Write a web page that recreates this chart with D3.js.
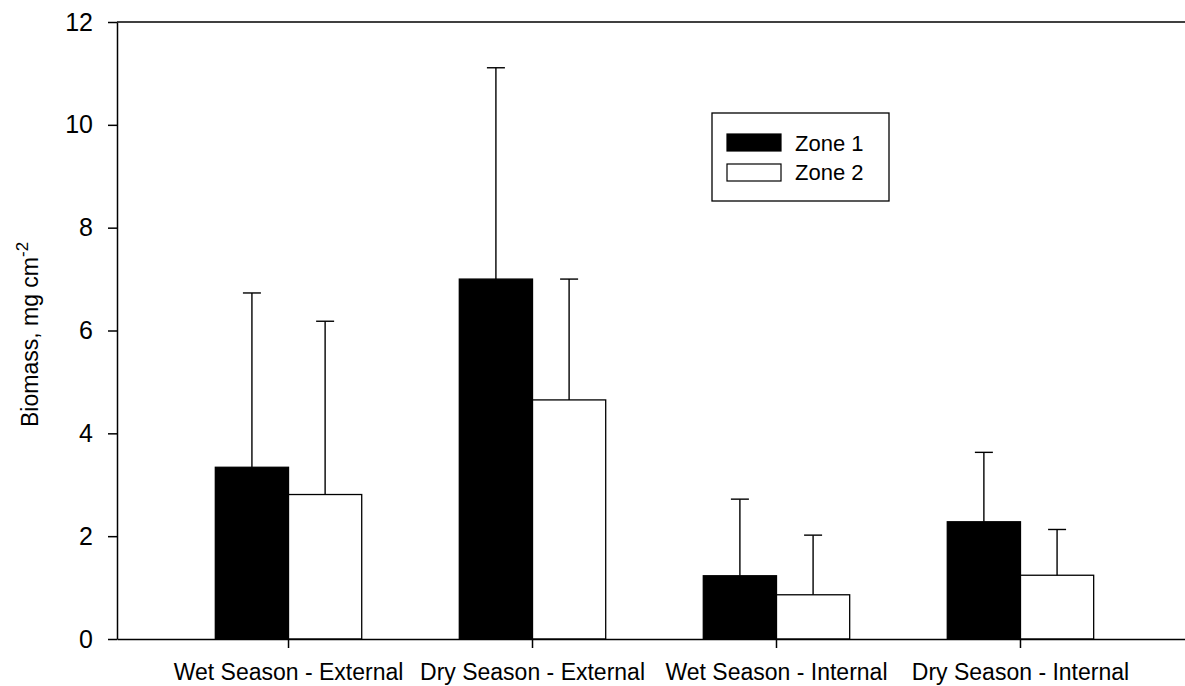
<!DOCTYPE html>
<html>
<head>
<meta charset="utf-8">
<script src="https://cdn.jsdelivr.net/npm/d3@7"></script>
<style>
  html, body { margin: 0; padding: 0; background: #fff; }
  svg { display: block; font-family: "Liberation Sans", Arial, sans-serif; }
</style>
</head>
<body>
<svg id="chart" width="1185" height="686"></svg>
<script>
const categories = ["Wet Season - External", "Dry Season - External", "Wet Season - Internal", "Dry Season - Internal"];
const zones = ["Zone 1", "Zone 2"];
const zone1Means = [3.34, 7.00, 1.23, 2.28];
const zone2Means = [2.81, 4.65, 0.86, 1.24];
const zone1Err = [3.39, 4.11, 1.49, 1.35];
const zone2Err = [3.37, 2.35, 1.16, 0.89];
const yTicks = [0, 2, 4, 6, 8, 10, 12];

const zoneFill = { "Zone 1": "#000000", "Zone 2": "#ffffff" };

const data = [];
categories.forEach((c, i) => {
  data.push({ cat: c, zone: "Zone 1", mean: zone1Means[i], err: zone1Err[i] });
  data.push({ cat: c, zone: "Zone 2", mean: zone2Means[i], err: zone2Err[i] });
});

const svg = d3.select("#chart");
const plotLeft = 117, plotRight = 1192, plotTop = 22, plotBottom = 639;

const x = d3.scaleBand().domain(categories).range([plotLeft, plotRight])
  .paddingInner(0.4).paddingOuter(0.403);
const x1 = d3.scaleBand().domain(zones).range([0, x.bandwidth()]);
const y = d3.scaleLinear().domain([0, 12]).range([plotBottom, plotTop]);

// Bars
svg.append("g").selectAll("rect").data(data).join("rect")
  .attr("x", d => x(d.cat) + x1(d.zone))
  .attr("y", d => y(d.mean))
  .attr("width", x1.bandwidth())
  .attr("height", d => y(0) - y(d.mean))
  .attr("fill", d => zoneFill[d.zone])
  .attr("stroke", "#000")
  .attr("stroke-width", 1.3);

// Error bars
const capW = 18;
const eb = svg.append("g").attr("stroke", "#000").attr("stroke-width", 1.4);
eb.selectAll("line.v").data(data).join("line").attr("class", "v")
  .attr("x1", d => x(d.cat) + x1(d.zone) + x1.bandwidth() / 2)
  .attr("x2", d => x(d.cat) + x1(d.zone) + x1.bandwidth() / 2)
  .attr("y1", d => y(d.mean))
  .attr("y2", d => y(d.mean + d.err));
eb.selectAll("line.c").data(data).join("line").attr("class", "c")
  .attr("x1", d => x(d.cat) + x1(d.zone) + x1.bandwidth() / 2 - capW / 2)
  .attr("x2", d => x(d.cat) + x1(d.zone) + x1.bandwidth() / 2 + capW / 2)
  .attr("y1", d => y(d.mean + d.err))
  .attr("y2", d => y(d.mean + d.err));

// Top frame line
svg.append("line")
  .attr("x1", plotLeft).attr("x2", plotRight)
  .attr("y1", plotTop).attr("y2", plotTop)
  .attr("stroke", "#000").attr("stroke-width", 1.5);

// Y axis
const yAxis = svg.append("g").attr("transform", `translate(${plotLeft},0)`)
  .call(d3.axisLeft(y).tickValues(yTicks).tickSizeInner(9).tickSizeOuter(0).tickPadding(15));
yAxis.select(".domain").attr("stroke-width", 1.5);
yAxis.selectAll(".tick line").attr("stroke-width", 1.5);
yAxis.selectAll("text").attr("font-size", 25).attr("fill", "#000")
  .style("font-family", "'Liberation Sans', Arial, sans-serif");

// X axis
const xAxis = svg.append("g").attr("transform", `translate(0,${plotBottom})`)
  .call(d3.axisBottom(x).tickSizeInner(9).tickSizeOuter(0).tickPadding(16));
xAxis.select(".domain").attr("stroke-width", 1.5);
xAxis.selectAll(".tick line").attr("stroke-width", 1.5);
xAxis.selectAll("text").attr("font-size", 23).attr("fill", "#000")
  .style("font-family", "'Liberation Sans', Arial, sans-serif");

// Y axis title
const yt = svg.append("text")
  .attr("transform", "translate(38,427) rotate(-90)")
  .attr("text-anchor", "start")
  .attr("font-size", 23)
  .attr("fill", "#000");
yt.append("tspan").text("Biomass, mg cm");
yt.append("tspan").attr("dy", -10).attr("font-size", 17).text("-2");

// Legend
const legend = svg.append("g");
legend.append("rect").attr("x", 712).attr("y", 113).attr("width", 177).attr("height", 88)
  .attr("fill", "#fff").attr("stroke", "#000").attr("stroke-width", 1.3);
zones.forEach((z, i) => {
  legend.append("rect").attr("x", 727).attr("y", 134 + i * 30).attr("width", 54).attr("height", 17)
    .attr("fill", zoneFill[z]).attr("stroke", "#000").attr("stroke-width", 1.2);
  legend.append("text").attr("x", 795).attr("y", 151 + i * 29)
    .attr("font-size", 22).attr("fill", "#000").text(z);
});
</script>
</body>
</html>
